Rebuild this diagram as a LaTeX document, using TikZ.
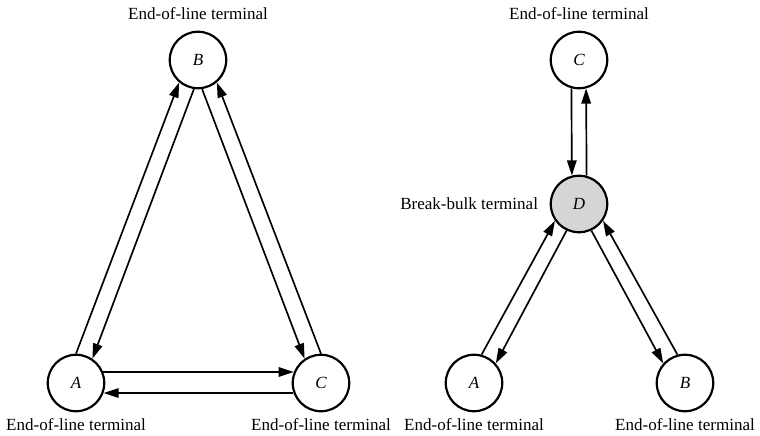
\documentclass[tikz,border=0pt]{standalone}
\usepackage{fontspec}
\setmainfont{Liberation Serif}
\usetikzlibrary{arrows.meta, positioning, calc}

\begin{document}
\begin{tikzpicture}[
    term/.style={circle, draw=black, line width=1.25pt, minimum size=1.13cm, inner sep=0pt, font=\fontsize{9.7}{11.6}\selectfont\itshape},
    hub/.style={term, fill=gray!33},
    tag/.style={font=\fontsize{9.7}{11.6}\selectfont, inner sep=3pt},
    flow/.style={-{Triangle[length=8.6pt, width=5.4pt]}, line width=0.95pt}
]
    \useasboundingbox (0,0) rectangle (15.2,8.72);

    % ===================== LEFT: DIRECT SERVICE =====================
    \node[term] (lA) at (1.52,1.06) {A};
    \node[term] (lB) at (3.96,7.52) {B};
    \node[term] (lC) at (6.42,1.06) {C};

    \node[tag, above=0.1cm of lB] (lBtag) {End-of-line terminal};
    \node[tag, below=0.02cm of lA] (lAtag) {End-of-line terminal};
    \node[tag, below=0.02cm of lC] (lCtag) {End-of-line terminal};

    \draw[flow] (lA.90) -- (lB.230);
    \draw[flow] (lB.262) -- (lA.56);
    \draw[flow] (lB.278) -- (lC.124);
    \draw[flow] (lC.90) -- (lB.310);
    \draw[flow] (lA.22) -- (lC.158);
    \draw[flow] (lC.200) -- (lA.340);

    % ===================== RIGHT: VIA BREAK-BULK =====================
    \node[term] (rC) at (11.58,7.52) {C};
    \node[hub] (rD) at (11.58,4.64) {D};
    \node[term] (rA) at (9.48,1.06) {A};
    \node[term] (rB) at (13.70,1.06) {B};

    \node[tag, above=0.1cm of rC] (rCtag) {End-of-line terminal};
    \node[tag, left=0.12cm of rD] (rDtag) {Break-bulk terminal};
    \node[tag, below=0.02cm of rA] (rAtag) {End-of-line terminal};
    \node[tag, below=0.02cm of rB] (rBtag) {End-of-line terminal};

    \draw[flow] (rC.255.5) -- (rD.104.5);
    \draw[flow] (rD.75.5) -- (rC.284.5);
    \draw[flow] (rA.75) -- (rD.215);
    \draw[flow] (rD.245) -- (rA.42);
    \draw[flow] (rD.295) -- (rB.138);
    \draw[flow] (rB.105) -- (rD.325);

\end{tikzpicture}
\end{document}
